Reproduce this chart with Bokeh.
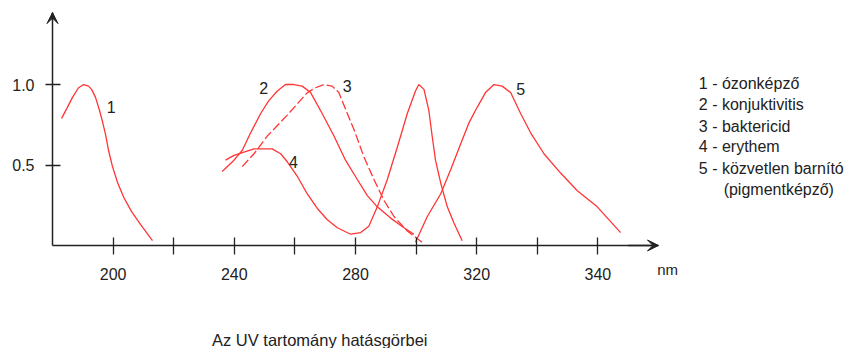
from bokeh.plotting import figure
from bokeh.models import Range1d, FixedTicker, Label, Arrow, VeeHead
from bokeh.embed import file_html
from bokeh.resources import INLINE
from bokeh.core.properties import value

# ---------------- data ----------------
ozon_nm = [183.0, 184.7, 186.6, 188.6, 190.3, 191.9, 192.9, 194.2, 195.5, 196.5,
           197.5, 198.5, 199.8, 201.5, 203.5, 206.1, 209.1, 213.0]
ozon_v = [0.79, 0.85, 0.92, 0.98, 1.00, 0.99, 0.97, 0.92, 0.84, 0.77,
          0.69, 0.59, 0.49, 0.39, 0.30, 0.21, 0.13, 0.03]

konj_nm = [236.0, 239.9, 242.6, 245.4, 248.7, 251.4, 254.2, 256.9, 259.7, 262.4,
           265.2, 269.0, 272.9, 276.7, 280.6, 283.9, 287.2, 291.6, 296.0, 299.3]
konj_v = [0.46, 0.53, 0.59, 0.70, 0.82, 0.90, 0.96, 1.00, 1.00, 0.99,
          0.95, 0.82, 0.68, 0.53, 0.41, 0.31, 0.24, 0.17, 0.11, 0.07]

bakt_nm = [242.6, 246.5, 250.9, 257.5, 264.1, 266.8, 269.6, 272.3, 274.5, 277.3,
           279.5, 282.8, 286.1, 289.4, 292.7, 297.1, 302.0]
bakt_v = [0.49, 0.57, 0.68, 0.81, 0.95, 0.98, 1.00, 0.99, 0.95, 0.82,
          0.72, 0.55, 0.41, 0.28, 0.18, 0.09, 0.02]

eryt_nm = [237.1, 239.9, 243.2, 246.5, 249.8, 252.5, 255.3, 257.5, 260.8, 264.1,
           267.4, 270.7, 274.0, 278.4, 281.7, 284.4, 287.2, 290.5, 293.8, 297.1,
           299.8, 300.9, 302.6, 304.2, 305.3, 306.4, 308.1, 310.3, 312.5, 315.2]
eryt_v = [0.53, 0.56, 0.58, 0.60, 0.60, 0.60, 0.57, 0.52, 0.43, 0.32,
          0.23, 0.16, 0.11, 0.07, 0.08, 0.12, 0.24, 0.41, 0.61, 0.82,
          0.96, 1.00, 0.97, 0.84, 0.68, 0.53, 0.39, 0.24, 0.14, 0.03]

barn_nm = [299.8, 303.7, 308.1, 311.4, 314.7, 317.4, 320.2, 322.9, 325.7, 328.4,
           331.2, 334.5, 337.8, 342.2, 347.7, 353.2, 359.8, 367.5]
barn_v = [0.02, 0.18, 0.32, 0.47, 0.63, 0.76, 0.86, 0.95, 1.00, 0.99,
          0.95, 0.82, 0.70, 0.57, 0.45, 0.34, 0.24, 0.08]

x_ticks = [200, 220, 240, 260, 280, 300, 320, 340, 360]
x_tick_labels = ["200", "", "240", "", "280", "", "320", "", "340"]
y_ticks = [0.5, 1.0]
y_tick_labels = ["0.5", "1.0"]

curve_ids = ["1", "2", "3", "4", "5"]
legend_lines = ["1 - ózonképző", "2 - konjuktivitis", "3 - baktericid",
                "4 - erythem", "5 - közvetlen barnító"]
legend_extra = "(pigmentképző)"
title_text = "Az UV tartomány hatásgörbei"
unit_text = "nm"

# ---------------- styling ----------------
RED = "#ff3535"
INK = "#222222"
FONT = "Liberation Sans"

X0, X1 = 180, 380          # drawn extent of the x axis
Y0, Y1 = 0, 1.447          # drawn extent of the y axis

p = figure(width=850, height=348,
           x_range=Range1d(162.84, 443.37), y_range=Range1d(-0.640, 1.522),
           output_backend="svg", toolbar_location=None,
           min_border=0)
p.outline_line_color = None
p.grid.visible = False
p.background_fill_color = "white"
p.border_fill_color = "white"

for ax in (p.xaxis[0], p.yaxis[0]):
    ax.axis_line_color = INK
    ax.axis_line_width = 1.5
    ax.major_tick_line_color = INK
    ax.major_tick_line_width = 1.3
    ax.minor_tick_line_color = None
    ax.major_label_text_font = FONT
    ax.major_label_text_font_size = "16px"
    ax.major_label_text_color = INK

p.xaxis.fixed_location = 0
p.xaxis.bounds = (X0, X1)
p.xaxis.ticker = FixedTicker(ticks=x_ticks)
p.xaxis.major_label_overrides = {t: s for t, s in zip(x_ticks, x_tick_labels)}
p.xaxis.major_tick_in = 8
p.xaxis.major_tick_out = 9
p.xaxis.major_label_standoff = 14

p.yaxis.fixed_location = X0
p.yaxis.bounds = (Y0, Y1)
p.yaxis.ticker = FixedTicker(ticks=y_ticks)
p.yaxis.major_label_overrides = {t: s for t, s in zip(y_ticks, y_tick_labels)}
p.yaxis.major_tick_in = 8
p.yaxis.major_tick_out = 7
p.yaxis.major_label_standoff = 11

# axis arrow heads
p.add_layout(Arrow(x_start=370, y_start=0, x_end=X1, y_end=0,
                   line_color=INK, line_width=1.5,
                   end=VeeHead(size=11, fill_color=INK, line_color=INK)))
p.add_layout(Arrow(x_start=X0, y_start=1.40, x_end=X0, y_end=Y1,
                   line_color=INK, line_width=1.5,
                   end=VeeHead(size=11, fill_color=INK, line_color=INK)))

# curves
p.line(ozon_nm, ozon_v, line_color=RED, line_width=1.3)
p.line(konj_nm, konj_v, line_color=RED, line_width=1.3)
p.line(bakt_nm, bakt_v, line_color=RED, line_width=1.3, line_dash="9 3")
p.line(eryt_nm, eryt_v, line_color=RED, line_width=1.3)
p.line(barn_nm, barn_v, line_color=RED, line_width=1.3)

# curve numbers
p.text(x=[199.4, 249.7, 277.3, 259.5, 334.5],
       y=[0.86, 0.978, 0.99, 0.52, 0.972],
       text=curve_ids, text_font=value(FONT), text_font_size="16px",
       text_align="center", text_baseline="alphabetic", text_color=INK)

# legend text
legend_y = [1.009, 0.876, 0.742, 0.612, 0.481]
for yy, s in zip(legend_y, legend_lines):
    p.add_layout(Label(x=393.3, y=yy, text=s, text_font=FONT,
                       text_font_size="16px", text_color=INK,
                       text_baseline="alphabetic", text_align="left"))
p.add_layout(Label(x=401.5, y=0.348, text=legend_extra, text_font=FONT,
                   text_font_size="16px", text_color=INK,
                   text_baseline="alphabetic", text_align="left"))

# unit and caption
p.add_layout(Label(x=383.0, y=-0.152, text=unit_text, text_font=FONT,
                   text_font_size="15px", text_color=INK,
                   text_baseline="alphabetic", text_align="center"))
p.add_layout(Label(x=268.2, y=-0.590, text=title_text, text_font=FONT,
                   text_font_size="16.5px", text_color=INK,
                   text_baseline="alphabetic", text_align="center"))

open("out.html", "w").write(file_html(p, INLINE))
